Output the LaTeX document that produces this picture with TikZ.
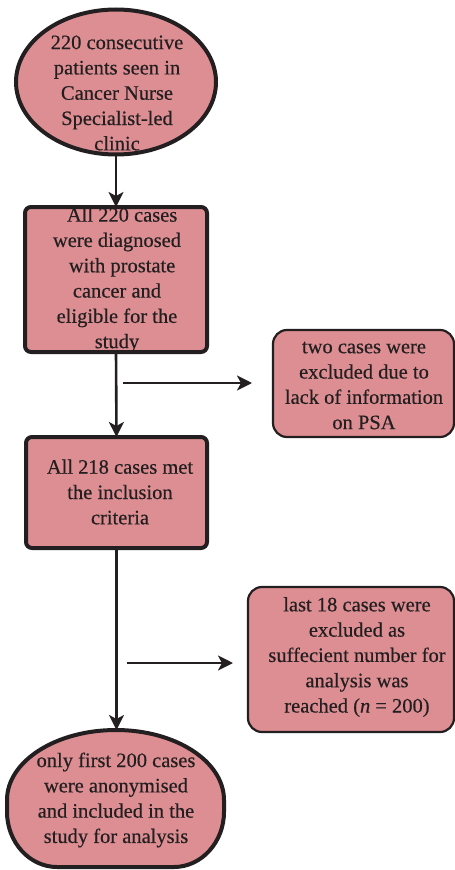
\documentclass[tikz,border=0pt]{standalone}
\usepackage{fontspec}
\setmainfont{Liberation Serif}
\newfontfamily\heavyserif{Liberation Serif}[FakeBold=0.4]
\usetikzlibrary{arrows.meta,shapes.geometric}
\definecolor{boxfill}{RGB}{221,142,147}
\definecolor{ink}{RGB}{35,31,32}
\begin{document}
\begin{tikzpicture}[x=1pt,y=-1pt,
  every node/.style={inner sep=0pt, outer sep=0pt},
  txt/.style={align=center, text=ink, font=\heavyserif\fontsize{20.5}{25.3}\selectfont},
  thickbox/.style={draw=ink, fill=boxfill, line width=4pt, rounded corners=6pt, rectangle},
  thinbox/.style={draw=ink, fill=boxfill, line width=2.2pt, rounded corners=14pt, rectangle},
  oval/.style={draw=ink, fill=boxfill, line width=4pt, ellipse},
  arr/.style={draw=ink, line width=2.6pt, -{Stealth[length=15pt,width=15pt,inset=4pt]}}]
\useasboundingbox (0,0) rectangle (455,870);
\clip (0,0) rectangle (455,870);
% top ellipse
\node[oval, minimum width=200pt, minimum height=145pt] (e1) at (116,82) {};
\node[txt] (t1) at (117,93) {220 consecutive\\patients seen in\\Cancer Nurse\\Specialist-led\\clinic};
% box 1
\node[thickbox, minimum width=182pt, minimum height=145pt] (b1) at (116,279.5) {};
\node[txt] (t2) at (117,280) {~~All 220 cases\\were diagnosed\\~~with prostate\\cancer and\\eligible for the\\study};
% box 2
\node[thickbox, minimum width=181pt, minimum height=111pt] (b2) at (116.5,492.5) {};
\node[txt] (t3) at (120,492) {All 218 cases met\\the inclusion\\criteria};
% right box 1
\node[thinbox, minimum width=181pt, minimum height=107pt] (r1) at (363.5,383.5) {};
\node[txt] (t4) at (364,385.5) {two cases were\\excluded due to\\lack of information\\on PSA};
% right box 2
\node[thinbox, minimum width=206pt, minimum height=145pt] (r2) at (351,659.5) {};
\node[txt] (t5) at (357,657) {last 18 cases were\\excluded as\\suffecient number for\\analysis was\\reached ({\itshape n} = 200)};
% bottom rounded shape
\draw[draw=ink, fill=boxfill, line width=4pt]
  (7,800) .. controls (7,761.3) and (55.8,730) .. (116,730)
  .. controls (175.6,730) and (224,761.3) .. (224,800)
  -- (224,812) .. controls (224,842) and (201.6,867) .. (174,867)
  -- (57,867) .. controls (29.4,867) and (7,842) .. (7,812) -- cycle;
\coordinate (b3top) at (116.5,730);
\node[txt] (t6) at (116,800) {only first 200 cases\\were anonymised\\and included in the\\study for analysis};
% connectors
\draw[arr] (e1.south) -- (b1.north);
\draw[arr] (b1.south) -- (b2.north);
\draw[arr] (b2.south) -- (b3top);
\coordinate (s1) at (123,383);
\coordinate (s1e) at (252,383);
\draw[arr] (s1) -- (s1e);
\coordinate (s2) at (127,663);
\coordinate (s2e) at (233,663);
\draw[arr] (s2) -- (s2e);
\end{tikzpicture}
\end{document}
